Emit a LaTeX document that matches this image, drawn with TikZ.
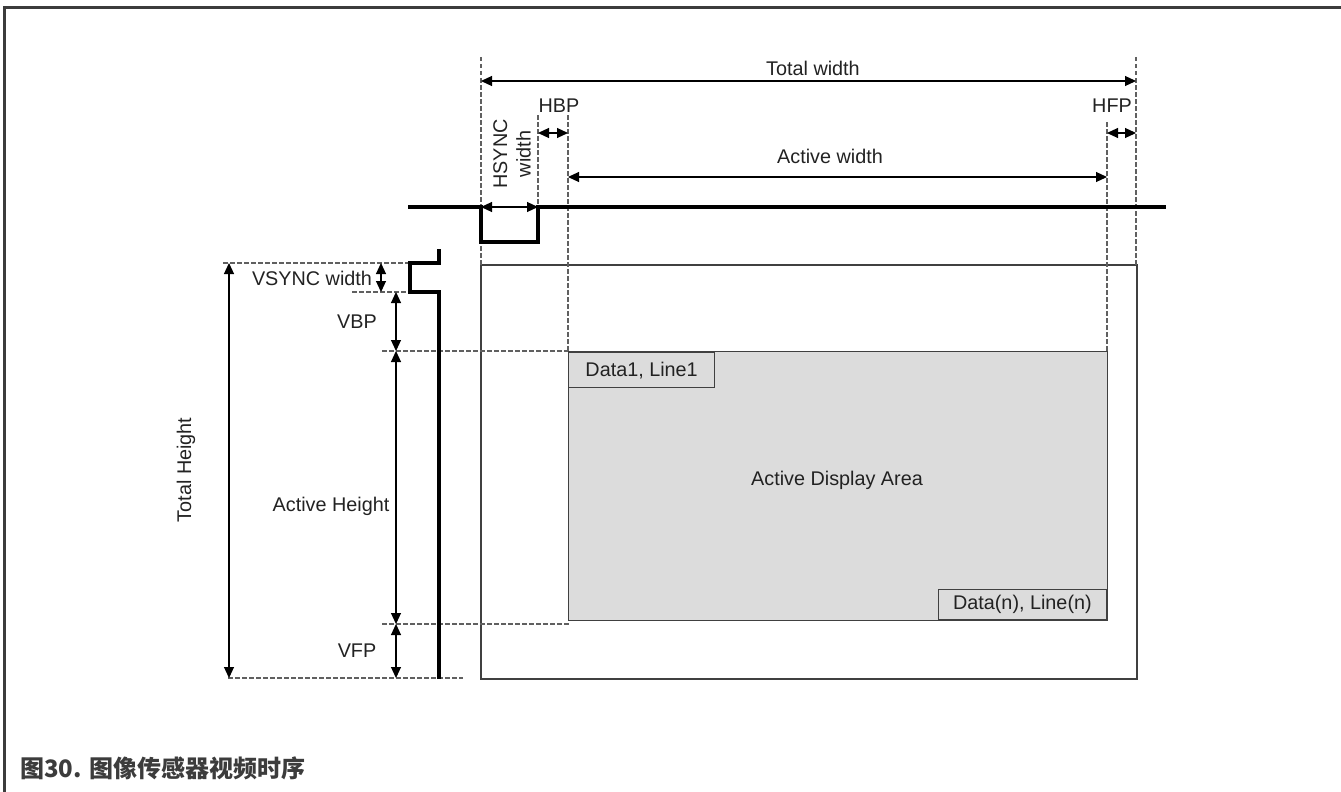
\documentclass[tikz,border=0pt]{standalone}
\usepackage{fontspec}
\setmainfont{Liberation Sans}
\newfontfamily\cjk{Noto Sans CJK SC}
\usetikzlibrary{arrows.meta}
\definecolor{frame}{HTML}{3C3C3C}
\definecolor{guidec}{HTML}{606060}
\definecolor{areac}{HTML}{DCDCDC}
\definecolor{edgec}{HTML}{404040}
\definecolor{txt}{HTML}{222222}
\begin{document}
\begin{tikzpicture}[x=1pt,y=-1pt,
  dim/.style={{Triangle[length=11pt,width=10pt]}-{Triangle[length=11pt,width=10pt]}, line width=1.1pt, draw=black},
  guide/.style={draw=guidec, line width=1.2pt, dash pattern=on 4.5pt off 2.5pt},
  sig/.style={draw=black, line width=3.4pt, line join=miter, line cap=butt},
  lbl/.style={font=\fontsize{19.8}{23.5}\selectfont, text=txt, inner sep=0pt},
  boxc/.style={draw=edgec, line width=1.2pt, fill=areac},
]
\useasboundingbox (0,0) rectangle (1341,792);
% frame
\draw[frame, line width=3pt] (4,792) -- (4,8) -- (1341,8);

% outer rectangle
\draw[draw=edgec, line width=1.2pt] (481,265) rectangle (1137,679);
% active area
\node[boxc, minimum width=539pt, minimum height=269pt, anchor=north west, inner sep=0pt] (area) at (568,351) {};
\node[lbl] (arealbl) at (837,480) {Active Display Area};
\node[boxc, anchor=north west, minimum width=146pt, minimum height=35pt, inner sep=0pt, font=\fontsize{19.8}{23.5}\selectfont, text=txt] (d1) at (568,352) {Data1, Line1};
\node[boxc, anchor=south east, minimum width=168pt, minimum height=30pt, inner sep=0pt, font=\fontsize{19.8}{23.5}\selectfont, text=txt] (dn) at (1107,620) {Data(n), Line(n)};

% vertical guides
\coordinate (g1t) at (481,57);  \coordinate (g1b) at (481,265);
\coordinate (g2t) at (1136,57); \coordinate (g2b) at (1136,265);
\coordinate (g3t) at (538,115); \coordinate (g3b) at (538,207);
\coordinate (g4t) at (568,115); \coordinate (g4b) at (568,351);
\coordinate (g5t) at (1107,122); \coordinate (g5b) at (1107,351);
\draw[guide] (g1t) -- (g1b);
\draw[guide] (g2t) -- (g2b);
\draw[guide] (g3t) -- (g3b);
\draw[guide] (g4t) -- (g4b);
\draw[guide] (g5t) -- (g5b);

% horizontal guides
\coordinate (h1a) at (223,263); \coordinate (h1b) at (410,263);
\coordinate (h2a) at (352,292); \coordinate (h2b) at (410,292);
\coordinate (h3a) at (382,351); \coordinate (h3b) at (568,351);
\coordinate (h4a) at (382,624); \coordinate (h4b) at (570,624);
\coordinate (h5a) at (228,678); \coordinate (h5b) at (463,678);
\draw[guide] (h1a) -- (h1b);
\draw[guide] (h2a) -- (h2b);
\draw[guide] (h3a) -- (h3b);
\draw[guide] (h4a) -- (h4b);
\draw[guide] (h5a) -- (h5b);

% horizontal dimensions
\coordinate (tw1) at (481,81);  \coordinate (tw2) at (1136,81);
\coordinate (hb1) at (538,133); \coordinate (hb2) at (568,133);
\coordinate (hf1) at (1107,133); \coordinate (hf2) at (1136,133);
\coordinate (aw1) at (568,177); \coordinate (aw2) at (1107,177);
\coordinate (hs1) at (481,207); \coordinate (hs2) at (538,207);
\draw[dim] (tw1) -- (tw2);
\draw[dim] (hb1) -- (hb2);
\draw[dim] (hf1) -- (hf2);
\draw[dim] (aw1) -- (aw2);
\draw[dim] (hs1) -- (hs2);
\node[lbl] (twl) at (813,68) {Total width};
\node[lbl] (awl) at (830,156) {Active width};
\node[lbl] (hbpl) at (559,106) {HBP};
\node[lbl] (hfpl) at (1112,106) {HFP};
\node[lbl, rotate=90, align=center] (hsl) at (512,154) {HSYNC\\width};

% HSYNC signal
\coordinate (s0) at (408,207); \coordinate (s5) at (1166,207);
\draw[sig] (s0) -- (481,207) -- (481,242) -- (538,242) -- (538,207) -- (s5);

% VSYNC signal
\coordinate (v0) at (439,249); \coordinate (v5) at (439,679);
\draw[sig, line width=3.8pt] (v0) -- (439,263) -- (410,263) -- (410,292) -- (439,292) -- (v5);

% vertical dimensions
\coordinate (th1) at (229,263); \coordinate (th2) at (229,678);
\coordinate (vs1) at (381,263); \coordinate (vs2) at (381,292);
\coordinate (vb1) at (396,292); \coordinate (vb2) at (396,351);
\coordinate (ah1) at (396,351); \coordinate (ah2) at (396,624);
\coordinate (vf1) at (396,624); \coordinate (vf2) at (396,678);
\draw[dim] (th1) -- (th2);
\draw[dim] (vs1) -- (vs2);
\draw[dim] (vb1) -- (vb2);
\draw[dim] (ah1) -- (ah2);
\draw[dim] (vf1) -- (vf2);
\node[lbl] (vswl) at (312,278) {VSYNC width};
\node[lbl] (vbpl) at (357,322) {VBP};
\node[lbl] (ahl) at (331,506) {Active Height};
\node[lbl] (vfpl) at (357,651) {VFP};
\node[lbl, rotate=90] (thl) at (186,470) {Total Height};

% caption
\node[anchor=west, inner sep=0pt, text=frame, font=\cjk\bfseries\fontsize{24}{27}\selectfont] (cap) at (20,768) {图30. 图像传感器视频时序};
\end{tikzpicture}
\end{document}
